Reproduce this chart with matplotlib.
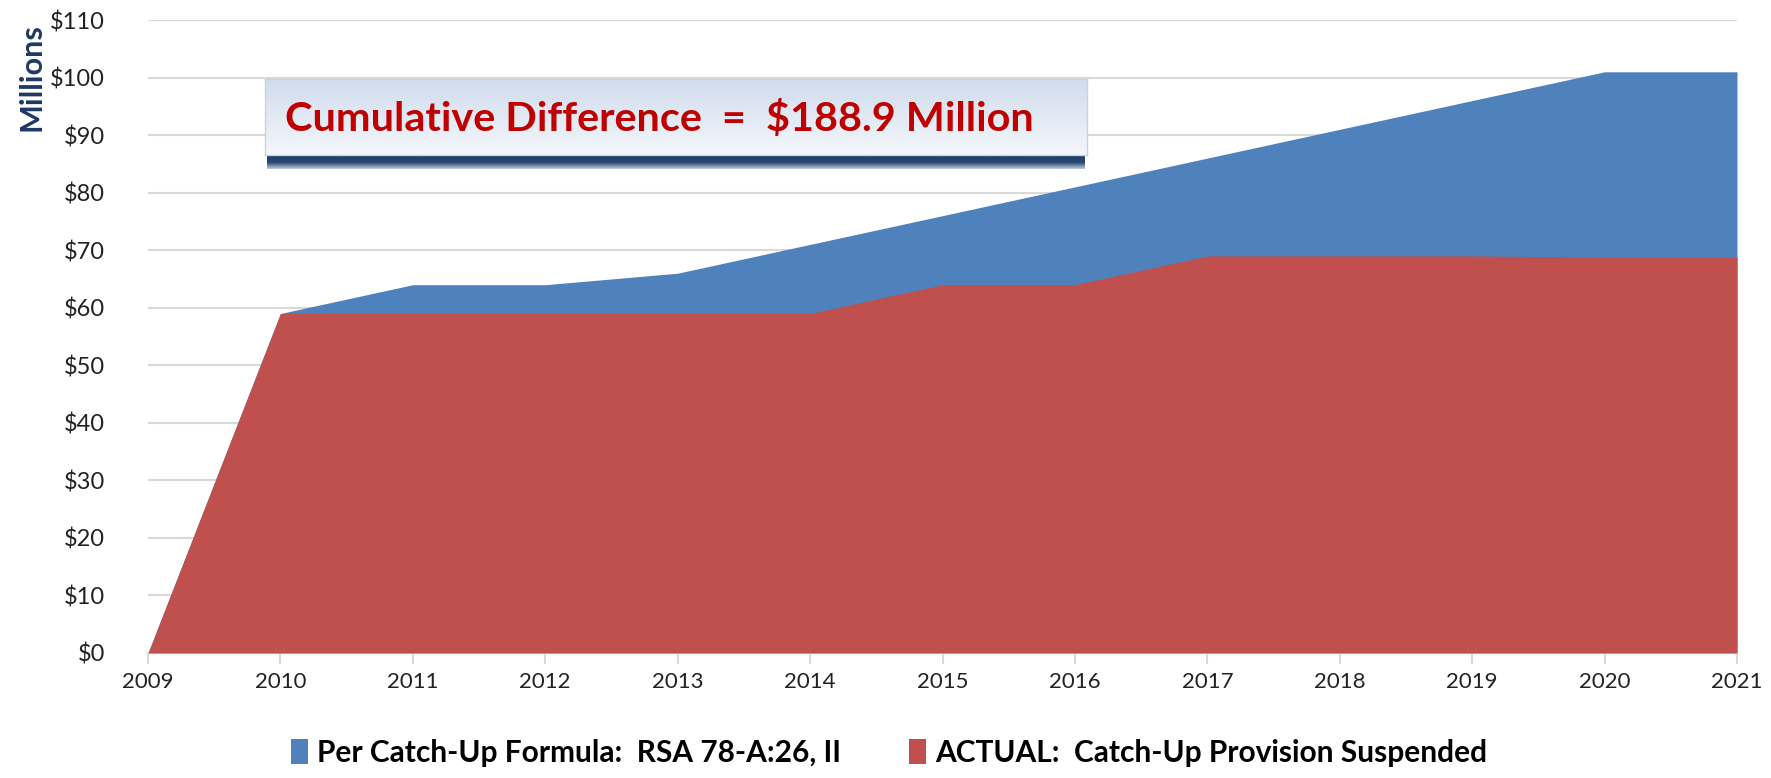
import matplotlib
matplotlib.use("Agg")
import matplotlib.pyplot as plt
import numpy as np
from matplotlib.patches import Patch

years = [2009, 2010, 2011, 2012, 2013, 2014, 2015, 2016, 2017, 2018, 2019, 2020, 2021]
formula_values = [0, 59, 64, 64, 66, 71, 76, 81, 86, 91, 96, 101, 101]
actual_values = [0, 59, 59, 59, 59, 59, 64, 64, 69, 69, 69, 68.8, 68.8]
y_ticks = list(range(0, 111, 10))
y_tick_labels = [f"${v}" for v in y_ticks]
series_names = ["Per Catch-Up Formula:  RSA 78-A:26, II", "ACTUAL:  Catch-Up Provision Suspended"]
annotation = "Cumulative Difference  =  $188.9 Million"

BLUE = "#4F81BD"
RED = "#C0504D"
FONT = ["Lato", "DejaVu Sans"]
plt.rcParams["font.family"] = FONT

W, H = 1771, 778
fig = plt.figure(figsize=(W / 100, H / 100), dpi=100)
ax = fig.add_axes([148 / W, 1 - 653 / H, (1737 - 148) / W, (653 - 20) / H])

ax.fill_between(years, 0, formula_values, color=BLUE, linewidth=0, zorder=2)
ax.fill_between(years, 0, actual_values, color=RED, linewidth=0, zorder=3)

ax.set_xlim(years[0], years[-1])
ax.set_ylim(0, 110)
ax.set_yticks(y_ticks)
ax.set_yticklabels(y_tick_labels)
ax.set_xticks(years)
ax.set_xticklabels([str(y) for y in years])
ax.grid(axis="y", color="#D9D9D9", linewidth=1.5, zorder=0)
ax.set_axisbelow(True)
for s in ["top", "right", "left"]:
    ax.spines[s].set_visible(False)
ax.spines["bottom"].set_color("#D9D9D9")
ax.spines["bottom"].set_linewidth(1.5)
ax.tick_params(axis="y", length=0, pad=31, labelsize=17, labelcolor="#222222")
ax.tick_params(axis="x", length=8, width=1.5, color="#D9D9D9", pad=6, labelsize=16, labelcolor="#222222")

fig.text(32 / W, 1 - 77 / H, "Millions", rotation=90, ha="center", va="center",
         fontsize=22, fontweight="bold", color="#1F3864")

# annotation box
bx0, bx1, by0, by1 = 265, 1087, 79, 155
shadow = fig.add_axes([(bx0 + 2) / W, 1 - (by1 + 14) / H, (bx1 - bx0 - 4) / W, 16 / H])
shadow.imshow(np.linspace(0, 1, 16).reshape(-1, 1), aspect="auto",
              cmap=matplotlib.colors.LinearSegmentedColormap.from_list(
                  "s", [(0, "#17375E"), (0.6, "#2A4A75"), (1, "#B8C4D4")]),
              extent=[0, 1, 0, 1])
shadow.axis("off")
box = fig.add_axes([bx0 / W, 1 - by1 / H, (bx1 - bx0) / W, (by1 - by0) / H])
grad = np.linspace(0, 1, 50).reshape(-1, 1)
box.imshow(grad, aspect="auto",
           cmap=matplotlib.colors.LinearSegmentedColormap.from_list("g", ["#F4F7FB", "#D0DCEC"]),
           origin="lower", extent=[0, 1, 0, 1])
box.set_xlim(0, 1)
box.set_ylim(0, 1)
box.set_xticks([])
box.set_yticks([])
for s in box.spines.values():
    s.set_color("#C8D3E2")
    s.set_linewidth(1)
box.text(20 / (bx1 - bx0), 0.47, annotation, ha="left", va="center", fontsize=29.8,
         fontweight="bold", color="#C00000")

handles = [Patch(facecolor=BLUE, edgecolor="none"), Patch(facecolor=RED, edgecolor="none")]
fig.legend(handles, series_names, loc="center", bbox_to_anchor=(0.502, 1 - 753 / H), ncol=2,
           frameon=False, prop={"size": 21.5, "weight": "bold"}, handlelength=0.55, handleheight=0.9,
           handletextpad=0.3, columnspacing=2.3)

fig.savefig("out.png", dpi=100)
